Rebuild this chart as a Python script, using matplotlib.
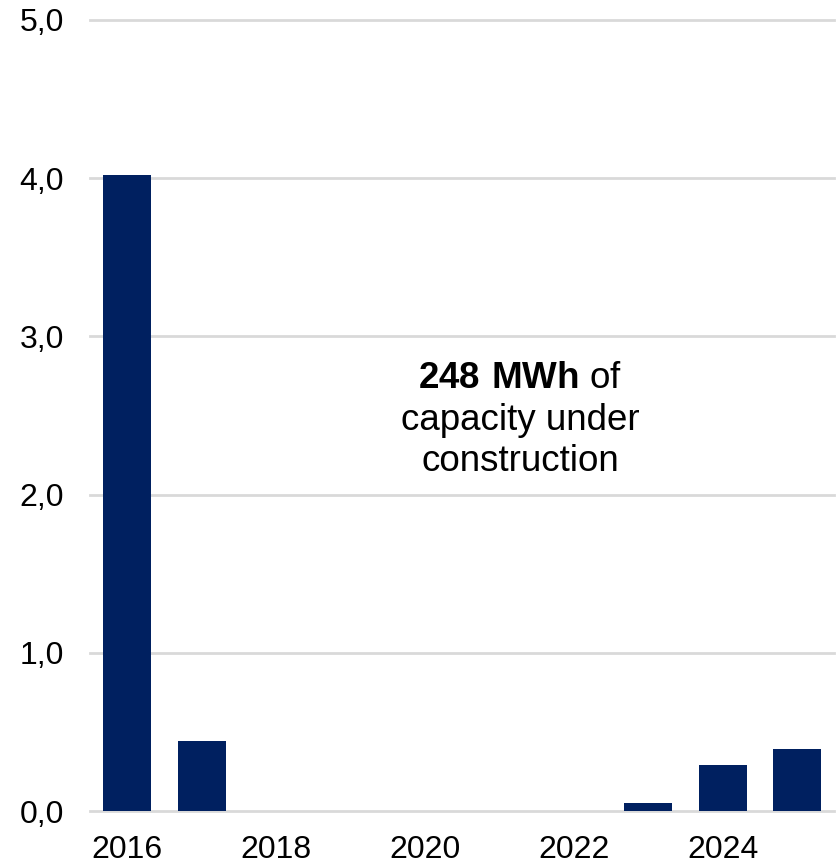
import matplotlib.pyplot as plt
import matplotlib

matplotlib.rcParams['font.family'] = 'Liberation Sans'
matplotlib.rcParams['mathtext.fontset'] = 'custom'
matplotlib.rcParams['mathtext.rm'] = 'Liberation Sans'
matplotlib.rcParams['mathtext.bf'] = 'Liberation Sans:bold'

# Data
years = [2016, 2017, 2018, 2019, 2020, 2021, 2022, 2023, 2024, 2025]
values = [4.02, 0.44, 0.0, 0.0, 0.0, 0.0, 0.0, 0.05, 0.29, 0.39]
y_ticks = [0, 1, 2, 3, 4, 5]
x_label_years = [2016, 2018, 2020, 2022, 2024]

fig = plt.figure(figsize=(8.39, 8.66), dpi=100)
ax = fig.add_axes([0.1075, 0.0635, 0.887, 0.9135])

x = list(range(len(years)))
ax.bar(x, values, width=0.645, color='#002060', zorder=3)

ax.set_xlim(-0.5, len(years) - 0.5)
ax.set_ylim(0, 5)
ax.set_yticks(y_ticks)
ax.set_yticklabels([f'{v:.1f}'.replace('.', ',') for v in y_ticks])
ax.set_xticks([years.index(y) for y in x_label_years])
ax.set_xticklabels([str(y) for y in x_label_years])
ax.tick_params(axis='both', length=0, labelsize=23)
ax.tick_params(axis='x', pad=17)
ax.tick_params(axis='y', pad=19)

ax.grid(axis='y', color='#d9d9d9', linewidth=2, zorder=0)
ax.set_axisbelow(True)
for gl in ax.yaxis.get_gridlines():
    gl.set_clip_on(False)
for s in ax.spines.values():
    s.set_visible(False)

ax.text(5.28, 2.47, r'$\bf{248\ MWh}$ of' + '\ncapacity under\nconstruction',
        ha='center', va='center', fontsize=26.5, linespacing=1.24)

plt.savefig('out.png', dpi=100)
